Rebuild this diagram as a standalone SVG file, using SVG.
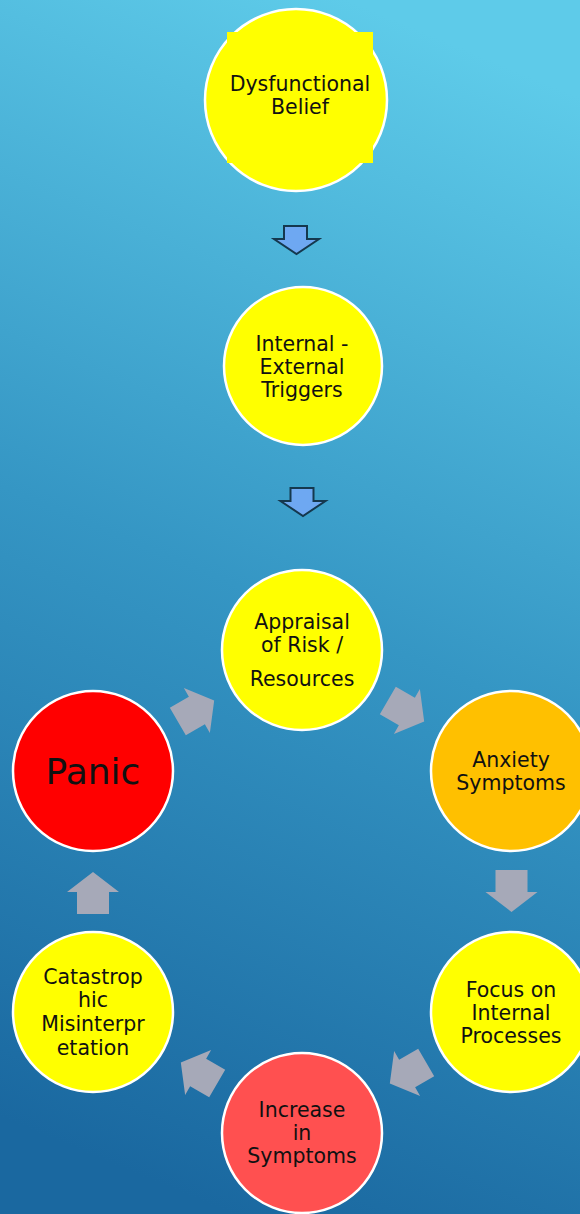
<svg xmlns="http://www.w3.org/2000/svg" width="580" height="1214" viewBox="0 0 580 1214">
<defs>
<linearGradient id="bg" x1="0.6" y1="0" x2="0.4" y2="1">
<stop offset="0" stop-color="#5ecbe9"/>
<stop offset="0.5" stop-color="#3596c4"/>
<stop offset="1" stop-color="#1a68a0"/>
</linearGradient>
<path id="garrow" d="M-21,-16 L1,-16 L1,-26 L21,0 L1,26 L1,16 L-21,16 Z"/>
<style>
.node{stroke:#ffffff;stroke-width:2.5}
.lbl{font-family:"DejaVu Sans",sans-serif;font-size:20.5px;fill:#111111;text-anchor:middle}
.ga{fill:#a6a9b8}
.ba{fill:#6ea8f2;stroke:#15384e;stroke-width:2;stroke-linejoin:miter}
</style>
</defs>
<rect x="0" y="0" width="580" height="1214" fill="url(#bg)"/>

<g id="connectors">
<path class="ba" d="M284,226 L307,226 L307,239 L319,239 L296.5,254 L274,239 L284,239 Z"/>
<path class="ba" d="M290.5,488 L313.5,488 L313.5,501 L325.5,501 L303,516 L280.5,501 L290.5,501 Z"/>
<use href="#garrow" class="ga" transform="translate(196,711) rotate(-30)"/>
<use href="#garrow" class="ga" transform="translate(406,711) rotate(30)"/>
<use href="#garrow" class="ga" transform="translate(511.5,891) rotate(90)"/>
<use href="#garrow" class="ga" transform="translate(408,1073) rotate(150)"/>
<use href="#garrow" class="ga" transform="translate(199,1073) rotate(210)"/>
<use href="#garrow" class="ga" transform="translate(93,893) rotate(-90)"/>
</g>

<g id="dysfunctional-belief">
<circle class="node" cx="296" cy="100" r="91" fill="#ffff00"/>
<rect x="227" y="32" width="146" height="131" fill="#ffff00"/>
<text class="lbl" x="300" y="91">Dysfunctional</text>
<text class="lbl" x="300" y="114">Belief</text>
</g>

<g id="internal-external-triggers">
<circle class="node" cx="303" cy="366" r="79" fill="#ffff00"/>
<text class="lbl" x="302" y="351">Internal -</text>
<text class="lbl" x="302" y="374">External</text>
<text class="lbl" x="302" y="397">Triggers</text>
</g>

<g id="appraisal">
<circle class="node" cx="302" cy="650" r="80" fill="#ffff00"/>
<text class="lbl" x="302" y="629">Appraisal</text>
<text class="lbl" x="302" y="652">of Risk /</text>
<text class="lbl" x="302" y="686">Resources</text>
</g>

<g id="anxiety-symptoms">
<circle class="node" cx="511" cy="771" r="80" fill="#ffc000"/>
<text class="lbl" x="511" y="767">Anxiety</text>
<text class="lbl" x="511" y="790">Symptoms</text>
</g>

<g id="focus-internal">
<circle class="node" cx="511" cy="1012" r="80" fill="#ffff00"/>
<text class="lbl" x="511" y="997">Focus on</text>
<text class="lbl" x="511" y="1020">Internal</text>
<text class="lbl" x="511" y="1043">Processes</text>
</g>

<g id="increase-symptoms">
<circle class="node" cx="302" cy="1133" r="80" fill="#ff5050"/>
<text class="lbl" x="302" y="1117">Increase</text>
<text class="lbl" x="302" y="1140">in</text>
<text class="lbl" x="302" y="1163">Symptoms</text>
</g>

<g id="catastrophic">
<circle class="node" cx="93" cy="1012" r="80" fill="#ffff00"/>
<text class="lbl" x="93" y="984">Catastrop</text>
<text class="lbl" x="93" y="1007">hic</text>
<text class="lbl" x="93" y="1031">Misinterpr</text>
<text class="lbl" x="93" y="1055">etation</text>
</g>

<g id="panic">
<circle class="node" cx="93" cy="771" r="80" fill="#ff0000"/>
<text class="lbl" x="93" y="784" style="font-size:36px">Panic</text>
</g>
</svg>
